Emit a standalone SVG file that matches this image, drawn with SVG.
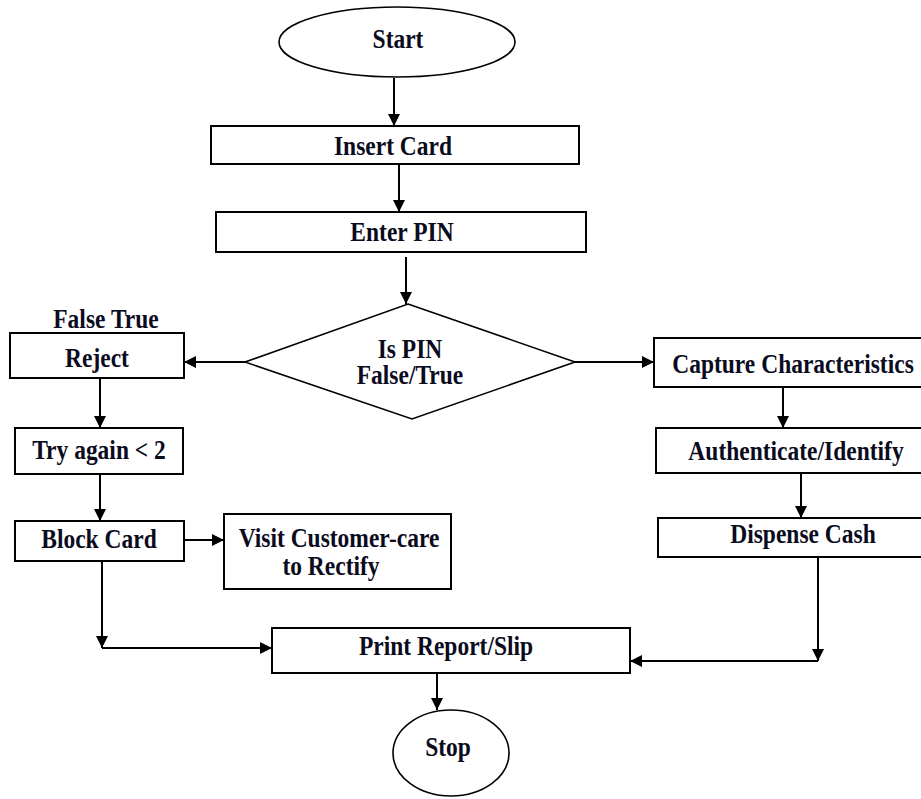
<svg xmlns="http://www.w3.org/2000/svg" width="921" height="799" viewBox="0 0 921 799">
<style>
  .box { fill: #ffffff; stroke: #000000; stroke-width: 2; }
  .dia { fill: #ffffff; stroke: #000000; stroke-width: 1.6; }
  .lbl { font-family: "Liberation Serif", "Times New Roman", serif; font-weight: bold; font-size: 23.5px; fill: #0b0b1e; text-anchor: middle; }
  .edge { fill: none; stroke: #000000; stroke-width: 2; marker-end: url(#arr); }
</style>
<defs>
  <marker id="arr" viewBox="0 0 12 12" refX="12" refY="6" markerWidth="12" markerHeight="12" markerUnits="userSpaceOnUse" orient="auto">
    <path d="M0,0 L12,6 L0,12 z" fill="#000000"/>
  </marker>
</defs>
<rect width="921" height="799" fill="#ffffff"/>

<g id="connectors">
  <path class="edge" d="M394,78 L394,126"/>
  <path class="edge" d="M399,164 L399,212"/>
  <path class="edge" d="M406,257 L406,304"/>
  <path class="edge" d="M245,362 L184,362"/>
  <path class="edge" d="M575,362 L654,362"/>
  <path class="edge" d="M100,378 L100,428"/>
  <path class="edge" d="M100,474 L100,521"/>
  <path class="edge" d="M184,540 L224,540"/>
  <path class="edge" d="M102,561 L102,648"/>
  <path class="edge" d="M102,648 L272,648"/>
  <path class="edge" d="M783,387 L783,428"/>
  <path class="edge" d="M801,473 L801,518"/>
  <path class="edge" d="M818,557 L818,661"/>
  <path class="edge" d="M818,661 L630,661"/>
  <path class="edge" d="M437,673 L437,710"/>
</g>

<g id="start">
  <ellipse cx="397" cy="42" rx="118" ry="35" class="dia"/>
  <text transform="translate(398,48) scale(1,1.12)" class="lbl">Start</text>
</g>
<g id="insert-card">
  <rect x="211" y="126" width="368" height="38" class="box"/>
  <text transform="translate(393,155) scale(1,1.12)" class="lbl">Insert Card</text>
</g>
<g id="enter-pin">
  <rect x="216" y="212" width="370" height="40" class="box"/>
  <text transform="translate(402,241) scale(1,1.12)" class="lbl">Enter PIN</text>
</g>
<g id="is-pin">
  <polygon points="408,304 575,362 412,419 245,362" class="dia"/>
  <text transform="translate(410,358) scale(1,1.12)" class="lbl">Is PIN</text>
  <text transform="translate(410,384) scale(1,1.12)" class="lbl">False/True</text>
</g>
<g id="false-true-label">
  <text transform="translate(106,328) scale(1,1.12)" class="lbl">False True</text>
</g>
<g id="reject">
  <rect x="10" y="333" width="174" height="45" class="box"/>
  <text transform="translate(97,367) scale(1,1.12)" class="lbl">Reject</text>
</g>
<g id="try-again">
  <rect x="15" y="428" width="168" height="46" class="box"/>
  <text transform="translate(99,459) scale(1,1.12)" class="lbl">Try again &lt; 2</text>
</g>
<g id="block-card">
  <rect x="15" y="521" width="169" height="40" class="box"/>
  <text transform="translate(99,548) scale(1,1.12)" class="lbl">Block Card</text>
</g>
<g id="visit-customer-care">
  <rect x="224" y="514" width="227" height="75" class="box"/>
  <text transform="translate(339,547) scale(1,1.12)" class="lbl">Visit Customer-care</text>
  <text transform="translate(331,575) scale(1,1.12)" class="lbl">to Rectify</text>
</g>
<g id="capture">
  <rect x="654" y="338" width="275" height="49" class="box"/>
  <text transform="translate(793,373) scale(1,1.12)" class="lbl">Capture Characteristics</text>
</g>
<g id="authenticate">
  <rect x="656" y="428" width="273" height="45" class="box"/>
  <text transform="translate(796,460) scale(1,1.12)" class="lbl">Authenticate/Identify</text>
</g>
<g id="dispense">
  <rect x="658" y="518" width="271" height="39" class="box"/>
  <text transform="translate(803,543) scale(1,1.12)" class="lbl">Dispense Cash</text>
</g>
<g id="print-report">
  <rect x="272" y="628" width="358" height="45" class="box"/>
  <text transform="translate(446,655) scale(1,1.12)" class="lbl">Print Report/Slip</text>
</g>
<g id="stop">
  <ellipse cx="451" cy="753" rx="58" ry="43" class="dia"/>
  <text transform="translate(448,756) scale(1,1.12)" class="lbl">Stop</text>
</g>
</svg>
